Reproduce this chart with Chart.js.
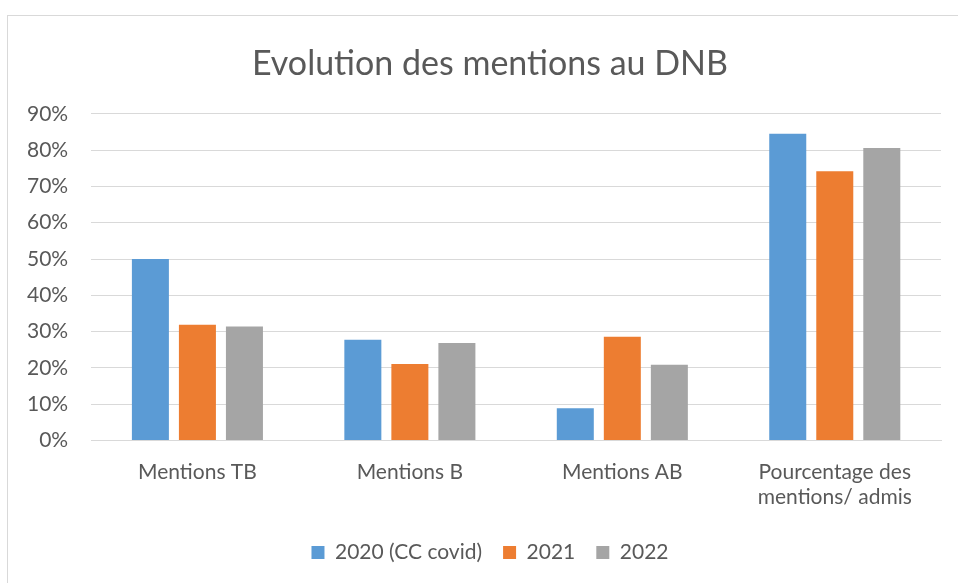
<!DOCTYPE html>
<html>
<head>
<meta charset="utf-8">
<script src="https://cdn.jsdelivr.net/npm/chart.js"></script>
<style>
  body { margin: 0; background: #fff; overflow: hidden; }
  #cadre { position: absolute; left: 7px; top: 15px; width: 960px; height: 580px; border: 1px solid #d9d9d9; }
  #zone { position: absolute; left: 0; top: 0; width: 976px; height: 583px; }
</style>
</head>
<body>
<div id="cadre"></div>
<div id="zone"><canvas id="canvas" width="976" height="583"></canvas></div>
<script>
const categories = ['Mentions TB', 'Mentions B', 'Mentions AB', ['Pourcentage des', 'mentions/ admis']];
const annees = ['2020 (CC covid)', '2021', '2022'];
const val2020 = [50.0, 27.8, 8.9, 84.5];
const val2021 = [31.9, 21.1, 28.6, 74.2];
const val2022 = [31.4, 26.9, 20.9, 80.6];
const couleurs = ['#5b9bd5', '#ed7d31', '#a5a5a5'];

const gris = '#595959';
const police = "Lato, 'Open Sans', sans-serif";

const ctx = document.getElementById('canvas');
new Chart(ctx, {
  type: 'bar',
  data: {
    labels: categories,
    datasets: [val2020, val2021, val2022].map((d, i) => ({
      label: annees[i],
      data: d,
      backgroundColor: couleurs[i],
      categoryPercentage: 0.664,
      barPercentage: 0.787
    }))
  },
  options: {
    responsive: false,
    animation: false,
    layout: { padding: { left: 4, right: 0, top: 20, bottom: 10 } },
    plugins: {
      title: {
        display: true,
        text: 'Evolution des mentions au DNB',
        color: gris,
        font: { family: police, size: 34, weight: 'normal' },
        padding: { top: 24, bottom: 29 }
      },
      legend: {
        position: 'bottom',
        labels: {
          color: gris,
          font: { family: police, size: 21 },
          boxWidth: 13,
          boxHeight: 13,
          padding: 21
        }
      },
      tooltip: { enabled: false }
    },
    scales: {
      x: {
        grid: { display: false },
        border: { color: '#d9d9d9' },
        ticks: { color: gris, font: { family: police, size: 21 }, padding: 11 }
      },
      y: {
        min: 0,
        max: 90,
        border: { display: false },
        grid: { color: '#d9d9d9', lineWidth: 1, drawTicks: false },
        ticks: {
          stepSize: 10,
          color: gris,
          font: { family: police, size: 21 },
          padding: 23,
          callback: v => v + '%'
        }
      },
      // marge droite vide pour garder le titre centré comme dans Excel
      marge: {
        position: 'right',
        grid: { display: false },
        border: { display: false },
        ticks: { display: false },
        afterFit: s => { s.width = 35; }
      }
    }
  }
});
</script>
</body>
</html>
